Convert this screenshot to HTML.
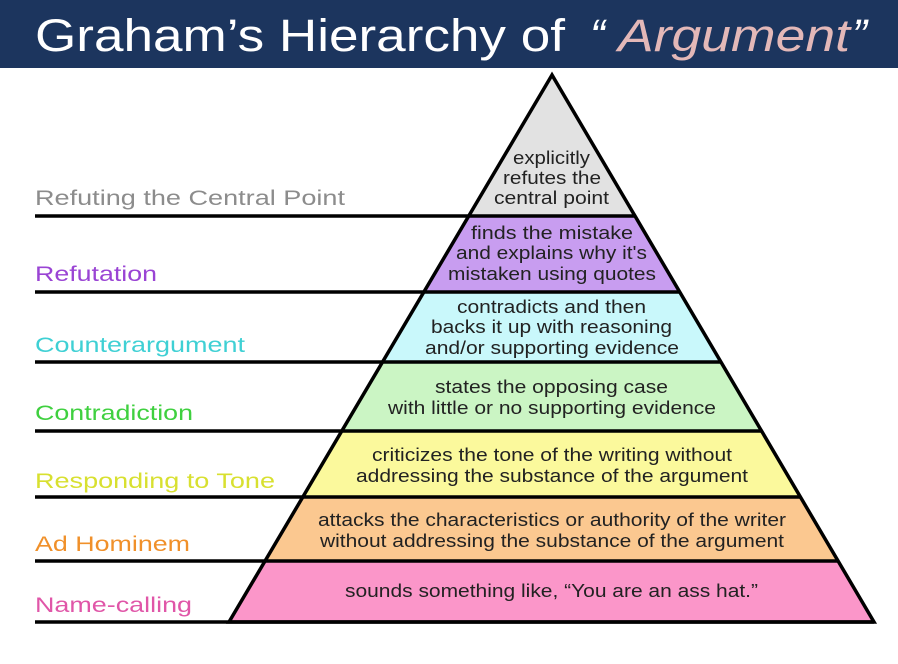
<!DOCTYPE html>
<html><head><meta charset="utf-8"><style>
html,body{margin:0;padding:0;background:#fff;}
svg{display:block;}
</style></head><body>
<svg width="898" height="664" viewBox="0 0 898 664" xmlns="http://www.w3.org/2000/svg">
<rect x="0" y="0" width="898" height="68" fill="#1c355e"/>
<text x="35" y="51" font-family="'Liberation Sans',sans-serif" font-size="45" fill="#ffffff" textLength="530" lengthAdjust="spacingAndGlyphs">Graham’s  Hierarchy of</text>
<text x="590" y="51" font-family="'Liberation Sans',sans-serif" font-size="45" font-style="italic" fill="#ffffff">“</text>
<text x="618" y="51" font-family="'Liberation Sans',sans-serif" font-size="45" font-style="italic" fill="#e3b8b8" textLength="232" lengthAdjust="spacingAndGlyphs">Argument</text>
<text x="852" y="51" font-family="'Liberation Sans',sans-serif" font-size="45" font-style="italic" fill="#ffffff">”</text>

<g stroke="none">
<polygon points="552,75 468.7,216 635,216" fill="#e2e2e2"/>
<polygon points="468.7,216 635,216 679.7,292 423.9,292" fill="#c89df0"/>
<polygon points="423.9,292 679.7,292 721,362 382.5,362" fill="#c9f8fb"/>
<polygon points="382.5,362 721,362 761.6,431 341.8,431" fill="#cbf5c4"/>
<polygon points="341.8,431 761.6,431 800.4,497 302.8,497" fill="#fbf99c"/>
<polygon points="302.8,497 800.4,497 838,561 265,561" fill="#fbc890"/>
<polygon points="265,561 838,561 874,622 229,622" fill="#fb96c9"/>
</g>
<g stroke="#000" stroke-width="3.5" fill="none">
<polygon points="552,75 229,622 874,622" stroke-linejoin="miter"/>
<line x1="35" y1="216" x2="635" y2="216"/>
<line x1="35" y1="292" x2="679.7" y2="292"/>
<line x1="35" y1="362" x2="721" y2="362"/>
<line x1="35" y1="431" x2="761.6" y2="431"/>
<line x1="35" y1="497" x2="800.4" y2="497"/>
<line x1="35" y1="561" x2="838" y2="561"/>
<line x1="35" y1="622" x2="874" y2="622"/>
</g>

<g font-family="'Liberation Sans',Arial,sans-serif" font-size="21">
<text x="35" y="205" fill="#8c8c8c" textLength="310" lengthAdjust="spacingAndGlyphs">Refuting the Central Point</text>
<text x="35" y="281" fill="#9a44d4" textLength="122" lengthAdjust="spacingAndGlyphs">Refutation</text>
<text x="35" y="352" fill="#3fd0d4" textLength="210" lengthAdjust="spacingAndGlyphs">Counterargument</text>
<text x="35" y="420" fill="#3fd03f" textLength="158" lengthAdjust="spacingAndGlyphs">Contradiction</text>
<text x="35" y="488" fill="#d8e030" textLength="240" lengthAdjust="spacingAndGlyphs">Responding to Tone</text>
<text x="35" y="551" fill="#f0902a" textLength="155" lengthAdjust="spacingAndGlyphs">Ad Hominem</text>
<text x="35" y="612" fill="#e056a8" textLength="157" lengthAdjust="spacingAndGlyphs">Name-calling</text>
</g>

<g font-family="'Liberation Sans',Arial,sans-serif" font-size="18" fill="#222">
<text x="513" y="164" textLength="77" lengthAdjust="spacingAndGlyphs">explicitly</text>
<text x="503" y="184" textLength="98" lengthAdjust="spacingAndGlyphs">refutes the</text>
<text x="494" y="204" textLength="115" lengthAdjust="spacingAndGlyphs">central point</text>
<text x="471" y="239" textLength="162" lengthAdjust="spacingAndGlyphs">finds the mistake</text>
<text x="456" y="259" textLength="191" lengthAdjust="spacingAndGlyphs">and explains why it's</text>
<text x="448" y="280" textLength="208" lengthAdjust="spacingAndGlyphs">mistaken using quotes</text>
<text x="457" y="313" textLength="189" lengthAdjust="spacingAndGlyphs">contradicts and then</text>
<text x="431" y="333" textLength="241" lengthAdjust="spacingAndGlyphs">backs it up with reasoning</text>
<text x="425" y="354" textLength="254" lengthAdjust="spacingAndGlyphs">and/or supporting evidence</text>
<text x="435" y="393" textLength="233" lengthAdjust="spacingAndGlyphs">states the opposing case</text>
<text x="388" y="414" textLength="328" lengthAdjust="spacingAndGlyphs">with little or no supporting evidence</text>
<text x="372" y="461" textLength="360" lengthAdjust="spacingAndGlyphs">criticizes the tone of the writing without</text>
<text x="356" y="482" textLength="392" lengthAdjust="spacingAndGlyphs">addressing the substance of the argument</text>
<text x="318" y="526" textLength="468" lengthAdjust="spacingAndGlyphs">attacks the characteristics or authority of the writer</text>
<text x="320" y="547" textLength="464" lengthAdjust="spacingAndGlyphs">without addressing the substance of the argument</text>
<text x="345" y="597" textLength="413" lengthAdjust="spacingAndGlyphs">sounds something like, “You are an ass hat.”</text>
</g>
</svg>
</body></html>
